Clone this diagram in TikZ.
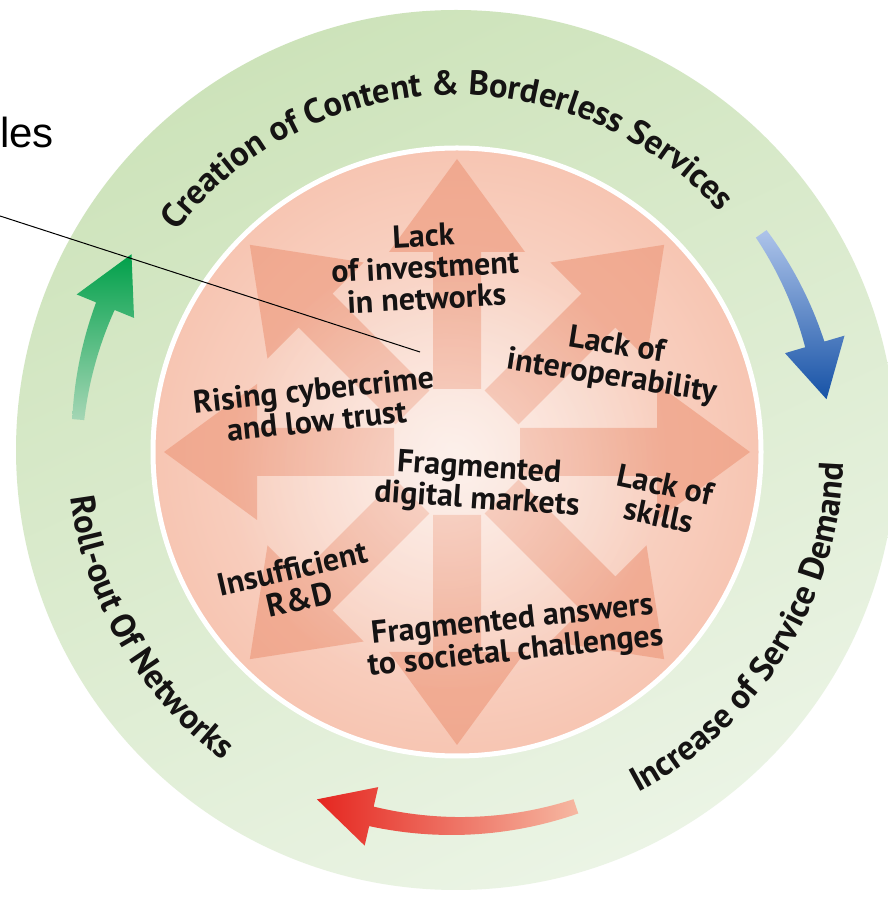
\documentclass[tikz,border=0pt]{standalone}
\usepackage{fontspec}
\setmainfont{PT Sans}
\newfontfamily\lesfont{Liberation Sans}
\usetikzlibrary{decorations.text,fadings,shadings}
\tikzfading[name=glowfade, inner color=transparent!0, outer color=transparent!100]
\definecolor{ringA}{HTML}{CDE3BA}
\definecolor{ringB}{HTML}{EBF4E5}
\definecolor{pinkC}{HTML}{FBE6DD}
\definecolor{pinkE}{HTML}{F7C5B2}
\definecolor{arrowF}{HTML}{EC9172}
\definecolor{gA}{HTML}{00A04A}
\definecolor{gB}{HTML}{A5D6B5}
\definecolor{bA}{HTML}{AEC4EA}
\definecolor{bB}{HTML}{1652A6}
\definecolor{rA}{HTML}{E52620}
\definecolor{rB}{HTML}{F6B8A2}
\definecolor{txt}{HTML}{151313}
\newcommand{\ringfont}{\bfseries\fontsize{34.5}{34}\selectfont}
\newcommand{\ringarrow}[8]{%
  \shade[#8] plot[domain=#1:#2, samples=30, variable=\t]
    ({456+(#4+0.5*(#5+(#6-#5)*(\t-(#1))/((#2)-(#1))))*cos(\t)},
     {447+(#4+0.5*(#5+(#6-#5)*(\t-(#1))/((#2)-(#1))))*sin(\t)})
  -- ({456+(#4+#7)*cos(#2)},{447+(#4+#7)*sin(#2)})
  -- ({456+#4*cos(#3)},{447+#4*sin(#3)})
  -- ({456+(#4-#7)*cos(#2)},{447+(#4-#7)*sin(#2)})
  -- plot[domain=#2:#1, samples=30, variable=\t]
    ({456+(#4-0.5*(#5+(#6-#5)*(\t-(#1))/((#2)-(#1))))*cos(\t)},
     {447+(#4-0.5*(#5+(#6-#5)*(\t-(#1))/((#2)-(#1))))*sin(\t)})
  -- cycle;}
\tikzset{
  innertext/.style={font=\bfseries\fontsize{32}{31.5}\selectfont, align=center, inner sep=0pt, text=txt},
  blockarrow/.style={fill=arrowF, fill opacity=0.55},
  ringtext/.style={decorate, decoration={text along path, text align=center, text={|\ringfont\color{txt}|#1}}}
}
\begin{document}
\begin{tikzpicture}[x=1pt,y=1pt]
\useasboundingbox (0,0) rectangle (888,897);
\fill[white] (0,0) rectangle (888,897);
% outer ring
\shade[top color=ringA, bottom color=ringB, shading angle=25] (456,447) circle[radius=440];
% ring arrows
\ringarrow{175.4}{157.7}{148.9}{379}{12}{20}{31}{top color=gA, bottom color=gB}
\ringarrow{35.3}{16.4}{7.8}{374}{13}{20}{31}{top color=bA, bottom color=bB}
\ringarrow{-71.4}{-103}{-111.7}{376}{15}{20}{30}{left color=rA, right color=rB}
% inner disc
\shade[inner color=pinkC, outer color=pinkE] (457,445) circle[radius=304];
\foreach \a in {0,45,...,315} {
  \fill[blockarrow, shift={(457,445)}, rotate=\a]
    (63,-24) -- (200,-24) -- (200,-68) -- (293,0) -- (200,68) -- (200,24) -- (63,24) -- cycle;
}
\fill[white, path fading=glowfade, fill opacity=0.45] (445,425) circle[radius=220];
\draw[white, line width=5] (457,445) circle[radius=304];
% ring texts
\path[ringtext={Creation of Content {\&} Borderless Services}] (456,447) ++(165:355) arc[start angle=165, end angle=19, radius=355];
\path[ringtext={Roll-out Of Networks}] (456,447) ++(173:388) arc[start angle=173, end angle=247, radius=388];
\path[ringtext={Increase of Service Demand}] (456,447) ++(-73:388) arc[start angle=-73, end angle=9, radius=388];
% inner texts
\node[innertext, rotate=3] (inv) at (425,630) {Lack\\of investment\\in networks};
\node[innertext, rotate=-9] (inter) at (614,535) {Lack of\\interoperability};
\node[innertext, rotate=6] (cyber) at (315,492) {Rising cybercrime\\and low trust};
\node[innertext, rotate=-4] (frag) at (478,412) {Fragmented\\digital markets};
\node[innertext, rotate=-12] (skills) at (662,397) {Lack of\\skills};
\node[innertext, rotate=13] (rd) at (296,313) {Insufficient\\R\&D};
\node[innertext, rotate=6] (soc) at (514,260) {Fragmented answers\\to societal challenges};
% leader line and cut-off label
\node[anchor=base west, inner sep=0pt, font=\lesfont\fontsize{42}{42}\selectfont] (les) at (0,749) {les};
\coordinate (lstart) at (0,681);
\coordinate (lend) at (420,545);
\draw[black, line width=1] (lstart) -- (lend);
\end{tikzpicture}
\end{document}
